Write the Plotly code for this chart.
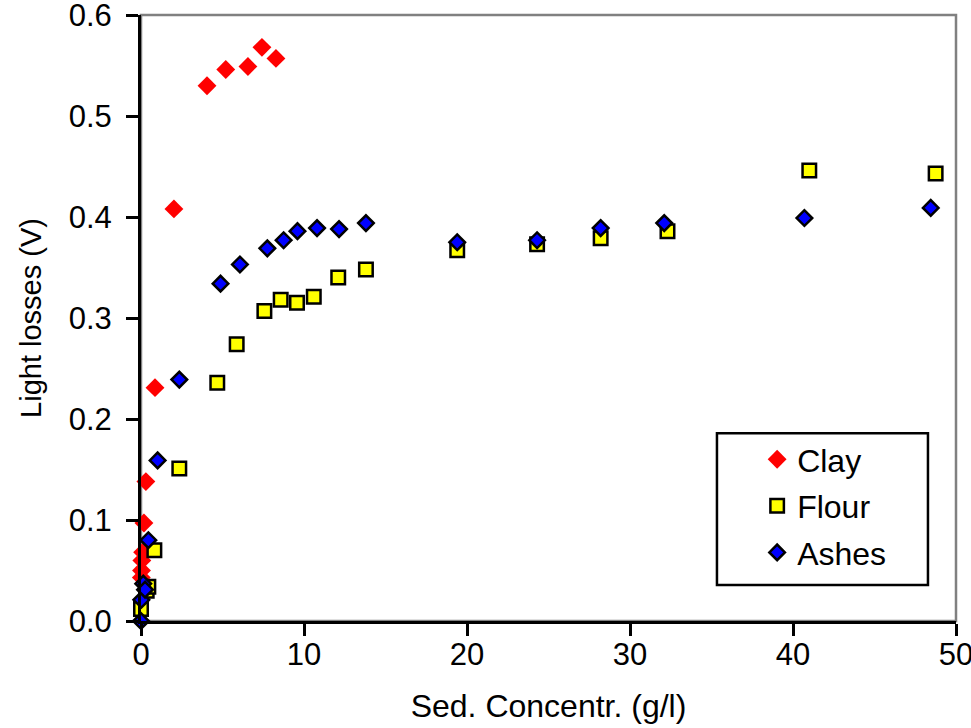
import plotly.graph_objects as go

# ---- data ----
clay_x = [0.02, 0.03, 0.05, 0.10, 0.18, 0.30, 0.86, 2.02, 4.05, 5.2, 6.56, 7.42, 8.28]
clay_y = [0.043, 0.050, 0.060, 0.068, 0.097, 0.138, 0.231, 0.408, 0.530, 0.546, 0.549, 0.568, 0.557]

flour_x = [0.0, 0.35, 0.45, 0.82, 2.35, 4.68, 5.87, 7.57, 8.57, 9.57, 10.6, 12.1, 13.8,
           19.4, 24.3, 28.2, 32.3, 41.0, 48.75]
flour_y = [0.012, 0.030, 0.034, 0.070, 0.151, 0.236, 0.274, 0.307, 0.318, 0.315, 0.321, 0.340, 0.348,
           0.367, 0.373, 0.379, 0.386, 0.446, 0.443]

ashes_x = [0.0, 0.02, 0.14, 0.25, 0.45, 1.02, 2.35, 4.88, 6.07, 7.75, 8.75, 9.6, 10.8, 12.15, 13.8,
           19.4, 24.3, 28.2, 32.1, 40.7, 48.45]
ashes_y = [0.0, 0.021, 0.037, 0.031, 0.080, 0.159, 0.239, 0.334, 0.353, 0.369, 0.377, 0.386, 0.389, 0.388, 0.394,
           0.375, 0.377, 0.389, 0.394, 0.399, 0.409]

x_ticks = [0, 10, 20, 30, 40, 50]
y_ticks = [0.0, 0.1, 0.2, 0.3, 0.4, 0.5, 0.6]

FONT = "Liberation Sans, Arial, sans-serif"

fig = go.Figure()
fig.add_trace(go.Scatter(x=clay_x, y=clay_y, mode="markers", name="Clay", legendgroup="a",
                         cliponaxis=False,
                         marker=dict(symbol="diamond", size=14.5, color="#FF0000",
                                     line=dict(width=0))))
fig.add_trace(go.Scatter(x=flour_x, y=flour_y, mode="markers", name="Flour", legendgroup="b",
                         cliponaxis=False,
                         marker=dict(symbol="square", size=13.5, color="#FFFF00",
                                     line=dict(width=2.5, color="black"))))
fig.add_trace(go.Scatter(x=ashes_x, y=ashes_y, mode="markers", name="Ashes", legendgroup="c",
                         cliponaxis=False,
                         marker=dict(symbol="diamond", size=12, color="#0000FF",
                                     line=dict(width=2.5, color="black"))))

# grey frame (top / right) and legend box
fig.add_shape(type="rect", xref="paper", yref="paper", x0=0, x1=1, y0=0, y1=1,
              line=dict(color="#808080", width=2.5), layer="below")
fig.add_shape(type="rect", xref="paper", yref="paper", x0=0.7067, x1=0.9656, y0=0.0594, y1=0.310,
              line=dict(color="black", width=2.5), fillcolor="white", layer="below")

axis_common = dict(showgrid=False, zeroline=False, showline=True, linecolor="black", linewidth=3,
                   ticks="outside", ticklen=12, tickwidth=2.5, tickcolor="black",
                   ticklabeloverflow="allow", automargin=False,
                   tickfont=dict(family=FONT, size=31, color="black"))

fig.update_xaxes(range=[0, 50], tickvals=x_ticks, ticktext=[str(v) for v in x_ticks],
                 title=dict(text="Sed. Concentr. (g/l)", font=dict(family=FONT, size=32, color="black"),
                            standoff=24),
                 ticklabelstandoff=-8, **axis_common)
fig.update_yaxes(range=[0, 0.6], tickvals=y_ticks, ticktext=[f"{v:.1f}" for v in y_ticks],
                 title=dict(text="Light losses (V)", font=dict(family=FONT, size=29, color="black"),
                            standoff=19),
                 ticklabelstandoff=8, **axis_common)

fig.update_layout(
    width=971, height=728,
    margin=dict(l=141, r=15, t=15, b=107),
    paper_bgcolor="white", plot_bgcolor="white",
    font=dict(family=FONT, size=30, color="black"),
    showlegend=True,
    legend=dict(x=0.756, xanchor="left", y=0.312, yanchor="top",
                bgcolor="rgba(0,0,0,0)", borderwidth=0, tracegroupgap=2,
                font=dict(family=FONT, size=32, color="black")),
)

fig.write_html("out.html", config={"displayModeBar": False},
               post_script="document.body.style.margin='0';document.body.style.padding='0';")
